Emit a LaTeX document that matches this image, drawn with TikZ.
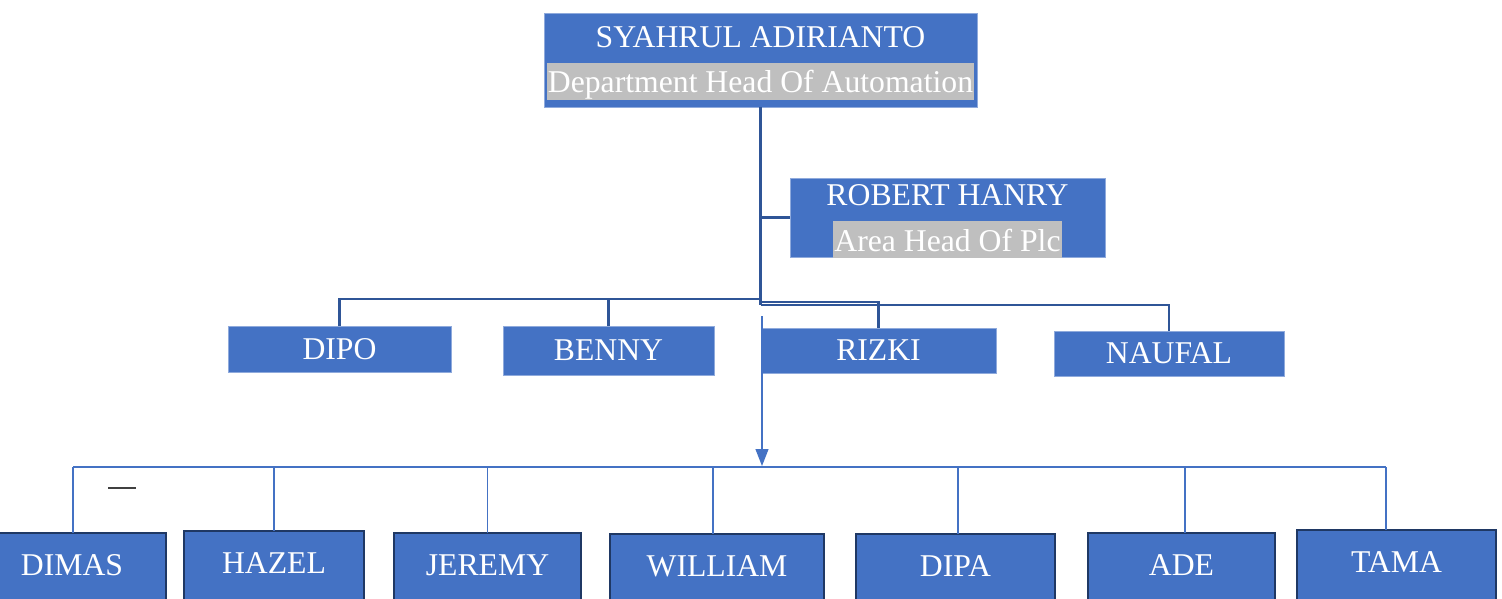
\documentclass[tikz,border=0pt]{standalone}
\usepackage{fontspec}
\setmainfont{Liberation Serif}
\usetikzlibrary{arrows.meta}
\definecolor{boxblue}{HTML}{4472C4}
\definecolor{linkblue}{HTML}{2F5597}
\definecolor{darkedge}{HTML}{1F3864}
\definecolor{lightedge}{HTML}{8FAADC}
\definecolor{bandgray}{HTML}{BFBFBF}
\definecolor{dashgray}{HTML}{404040}
\begin{document}
\begin{tikzpicture}[x=1pt,y=-1pt,
  every node/.style={font=\fontsize{31.7}{36}\selectfont, text=white, inner sep=0pt, outer sep=0pt},
  headbox/.style={fill=boxblue, draw=lightedge, line width=0.8pt, anchor=north west},
  midbox/.style={fill=boxblue, draw=lightedge, line width=0.8pt, anchor=north west},
  lowbox/.style={fill=boxblue, draw=darkedge, line width=2.5pt, anchor=north west, text height=42pt, text depth=40pt},
  nametxt/.style={anchor=base},
  bandtxt/.style={anchor=base, fill=bandgray, inner xsep=1pt, text height=30pt, text depth=7pt},
  mainlink/.style={draw=linkblue, line width=2.6pt},
  thinlink/.style={draw=boxblue, line width=1.2pt}]
\useasboundingbox (0,0) rectangle (1502,599);

% top
\node[headbox, minimum width=433pt, minimum height=94pt] (top) at (544,13) {};
\node[nametxt] (topname) at (760.5,47.5) {SYAHRUL ADIRIANTO};
\node[bandtxt] (toprole) at (760.5,93) {Department Head Of Automation};

% robert
\node[headbox, minimum width=315pt, minimum height=79pt] (robert) at (790,178) {};
\node[nametxt] (robertname) at (947.5,205.5) {ROBERT HANRY};
\node[bandtxt] (robertrole) at (947.5,251) {Area Head Of Plc};

% level 2
\node[midbox, minimum width=223pt, minimum height=46pt] (dipo) at (228,326) {DIPO};
\node[midbox, minimum width=211pt, minimum height=49pt] (benny) at (503,326) {BENNY};
\node[midbox, minimum width=235pt, minimum height=45pt] (rizki) at (761,328) {RIZKI};
\node[midbox, minimum width=230pt, minimum height=45pt] (naufal) at (1054,331) {NAUFAL};

% level 3
\node[lowbox, minimum width=188pt] (dimas) at (-22,533) {DIMAS};
\node[lowbox, minimum width=180pt] (hazel) at (184,531) {HAZEL};
\node[lowbox, minimum width=187pt] (jeremy) at (394,533) {JEREMY};
\node[lowbox, minimum width=214pt] (william) at (610,534) {WILLIAM};
\node[lowbox, minimum width=199pt] (dipa) at (856,534) {DIPA};
\node[lowbox, minimum width=187pt] (ade) at (1088,533) {ADE};
\node[lowbox, minimum width=199pt] (tama) at (1297,530) {TAMA};

% thick connectors
\coordinate (j1) at (760.5,299);
\coordinate (j2) at (760.5,302);
\coordinate (j3) at (760.5,305);
\draw[mainlink] (top.south) -- (j3);
\draw[mainlink] (top.south |- robert.west) -- (robert.west);
\draw[mainlink] (dipo.north) |- (j1);
\draw[mainlink] (benny.north) -- (benny.north |- j1);
\draw[mainlink] (j2) -| (rizki.north);
\draw[mainlink] (j3) -| (naufal.north);

% thin arrow to lower bus
\coordinate (arrowstart) at (762,316);
\coordinate (busmid) at (762,466);
\draw[thinlink, -{Triangle[length=17pt,width=13pt]}] (arrowstart) -- (busmid);

% lower bus
\coordinate (busL) at (73,467);
\coordinate (busR) at (1386,467);
\draw[thinlink] (busL) -- (busR);
\draw[thinlink] (busL) -- (busL |- dimas.north);
\draw[thinlink] (hazel.north) -- (hazel.north |- busL);
\draw[thinlink] (jeremy.north) -- (jeremy.north |- busL);
\draw[thinlink] ([xshift=-4pt]william.north) -- ([xshift=-4pt]william.north |- busL);
\draw[thinlink] ([xshift=2.5pt]dipa.north) -- ([xshift=2.5pt]dipa.north |- busL);
\draw[thinlink] ([xshift=3.5pt]ade.north) -- ([xshift=3.5pt]ade.north |- busL);
\draw[thinlink] (busR) -- (busR |- tama.north);

% small dash
\draw[dashgray, line width=2pt] (108,488) -- (136,488);
\end{tikzpicture}
\end{document}
